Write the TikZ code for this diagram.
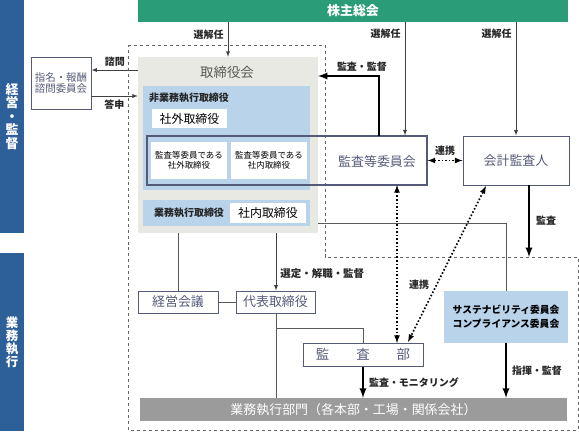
\documentclass[tikz,border=0pt]{standalone}
\usepackage{fontspec}
\setmainfont{Noto Sans CJK JP}
\usetikzlibrary{arrows}
\usetikzlibrary{calc}

\definecolor{sidebl}{HTML}{2D5F98}
\definecolor{green}{HTML}{2A9C77}
\definecolor{boardgr}{HTML}{E9E9E4}
\definecolor{lblue}{HTML}{B8D3EA}
\definecolor{slate}{HTML}{555A78}
\definecolor{bargr}{HTML}{9B9B9B}
\newcommand\fsz[1]{\fontsize{#1}{#1}\selectfont}

\begin{document}
\begin{tikzpicture}[x=1bp,y=-1bp]
\tikzset{box/.style={draw=slate,line width=1pt,fill=white,inner sep=0pt,text=slate},
         area/.style={inner sep=0pt},
         lbl/.style={font=\fsz{10}\bfseries,text=black!85,inner sep=1pt},
         thin arrow/.style={draw=black!75,line width=0.9pt,-latex},
         thick arrow/.style={black,line width=2.2pt,-latex},
         dot arrow/.style={black,line width=1.6pt,dotted,latex-latex},
         conn/.style={draw=black!65,line width=0.9pt}}
\useasboundingbox (0,0) rectangle (579,431);
% side bars
\node[area,fill=sidebl,minimum width=24bp,minimum height=233bp,text=white,align=center,font=\fontsize{13}{13.6}\selectfont\bfseries] (top bar) at (12,116.5) {経\\営\\・\\監\\督};
\node[area,fill=sidebl,minimum width=24bp,minimum height=178bp,text=white,align=center,font=\fontsize{12.5}{13}\selectfont\bfseries] (low bar) at (12,342) {業\\務\\執\\行};
% shareholders
\node[area,fill=green,minimum width=430bp,minimum height=22bp,text=white,font=\fsz{13}\bfseries] (soukai) at (353,11) {株主総会};
% dashed frame
\draw[dashed,draw=black!60,line width=0.8pt] (128,45) -- (325,45) -- (325,257) -- (578,257) -- (578,430) -- (128,430) -- cycle;
% board
\node[area,fill=boardgr,minimum width=180bp,minimum height=176bp] (board) at (228,145) {};
\node[text=black!65,font=\fsz{13.5}] (board title) at (227,72) {取締役会};
\node[area,fill=lblue,minimum width=167bp,minimum height=104bp] (nonexec) at (226.5,138) {};
\node[lbl,anchor=west] (nonexec title) at (148,98) {非業務執行取締役};
\node[area,fill=white,minimum width=75bp,minimum height=19bp,font=\fsz{12}] (outside) at (189.5,118.5) {社外取締役};
\node[area,fill=white,minimum width=76bp,minimum height=37bp,align=center,font=\fsz{8.5}] (wb1) at (189,160.5) {監査等委員である\\[2bp]社外取締役};
\node[area,fill=white,minimum width=76bp,minimum height=37bp,align=center,font=\fsz{8.5}] (wb2) at (269,160.5) {監査等委員である\\[2bp]社内取締役};
\node[area,fill=lblue,minimum width=167bp,minimum height=26bp] (exec) at (226.5,213) {};
\node[lbl,anchor=west] (exec title) at (153,213) {業務執行取締役};
\node[area,fill=white,minimum width=76bp,minimum height=20bp,font=\fsz{12}] (inside) at (268,213) {社内取締役};
% audit committee
\node[draw=slate,line width=1.2pt,inner sep=0pt,minimum width=280bp,minimum height=49bp] (committee) at (287,160.5) {};
\node[text=slate,font=\fsz{13}] (committee title) at (377,162) {監査等委員会};
\node[box,minimum width=106bp,minimum height=49bp,font=\fsz{13}] (auditor) at (516,160.5) {会計監査人};
\node[box,minimum width=60bp,minimum height=52bp,align=center,font=\fsz{10.5}] (nomin) at (61,83) {指名・報酬\\[1bp]諮問委員会};
% execution
\node[box,minimum width=80bp,minimum height=22bp,font=\fsz{13}] (keiei) at (178,302) {経営会議};
\node[box,minimum width=79bp,minimum height=22bp,font=\fsz{13}] (daihyo) at (275.5,302) {代表取締役};
\node[box,minimum width=120bp,minimum height=23bp,font=\fsz{13.5}] (kansa) at (363,354.5) {監　　査　　部};
\node[area,fill=lblue,minimum width=124bp,minimum height=52bp,align=center,font=\fsz{9.8}\bfseries] (sustain) at (506,317) {サステナビリティ委員会\\[4bp]コンプライアンス委員会};
\node[area,fill=bargr,minimum width=427bp,minimum height=23bp,text=white,font=\fsz{13}] (gyomu) at (353.5,409.5) {業務執行部門（各本部・工場・関係会社）};
% connectors
\coordinate (s2) at (405,22);
\coordinate (q1) at (138,70);
\coordinate (q2) at (91,96);
\coordinate (m1) at (379,136);
\coordinate (m2) at (318,76);
\coordinate (c1) at (318,223);
\coordinate (a1) at (529,185);
\coordinate (a2) at (529,257);
\coordinate (k1) at (397,185);
\coordinate (k2) at (397,343);
\coordinate (d1) at (486,186);
\coordinate (d2) at (408,342);
\coordinate (b1) at (276,328);
\draw[thin arrow] (soukai.south -| board.north) -- node[lbl,left=3bp,pos=0.35] {選解任} (board.north);
\draw[thin arrow] (s2) -- node[lbl,left=3bp,pos=0.1] {選解任} (s2 |- committee.north);
\draw[thin arrow] (soukai.south -| auditor.north) -- node[lbl,left=3bp,pos=0.1] {選解任} (auditor.north);
\draw[thin arrow] (q1) -- node[lbl,above=2bp] {諮問} (q1 -| nomin.east);
\draw[thin arrow] (q2) -- node[lbl,below=2bp] {答申} (q2 -| board.west);
\draw[thick arrow] (m1) |- node[lbl,pos=0.64,above=2bp] {監査・監督} (m2);
\draw[dot arrow] (committee.east) -- node[lbl,above=3bp] {連携} (auditor.west);
\draw[thick arrow] (a1) -- node[lbl,right=5bp] {監査} (a2);
\draw[conn] (c1) -| (sustain.north);
\draw[conn] (board.south -| keiei.north) -- (keiei.north);
\draw[thin arrow] (board.south -| b1) -- node[lbl,right=3bp,pos=0.7,font=\fsz{10.5}\bfseries] {選定・解職・監督} (b1 |- daihyo.north);
\draw[conn] (keiei.east) -- (daihyo.west);
\draw[conn] (b1 |- daihyo.south) -- (b1 |- gyomu.north);
\draw[conn] (b1) -| (kansa.north);
\draw[dot arrow] (k1) -- (k2);
\draw[dot arrow] (d1) -- node[lbl,pos=0.63,left=6bp] {連携} (d2);
\draw[thick arrow] (kansa.south) -- node[lbl,right=4bp,pos=0.5] {監査・モニタリング} (kansa.south |- gyomu.north);
\draw[thick arrow] (sustain.south) -- node[lbl,right=4bp,pos=0.5] {指揮・監督} (sustain.south |- gyomu.north);
\end{tikzpicture}
\end{document}
